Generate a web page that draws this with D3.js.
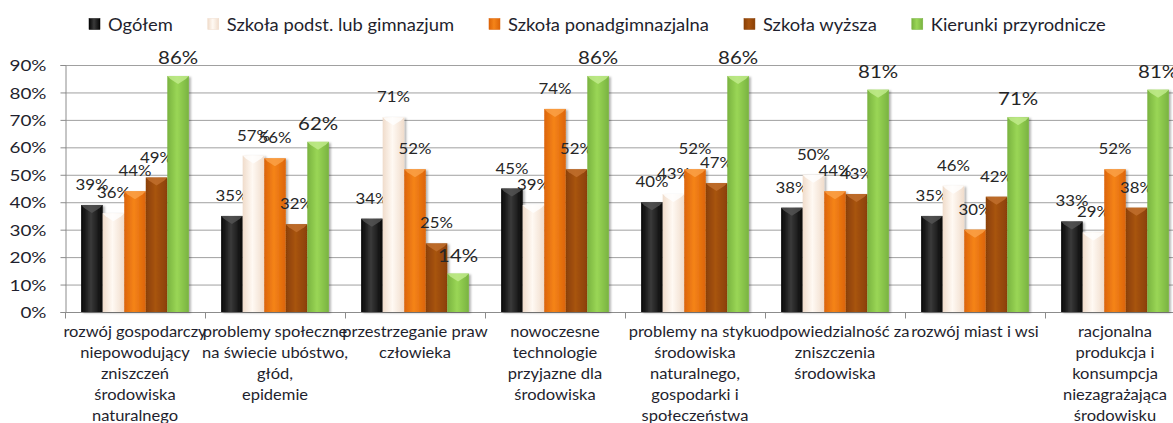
<!DOCTYPE html>
<html>
<head>
  <meta charset="UTF-8">
  <style>
    body {
      margin: 0;
      background-color: #ffffff;
      font-family: Lato, 'Open Sans', sans-serif;
    }
    svg { display: block; }
    .grid line { stroke: #a0a0a0; stroke-width: 1; }
    .axis path, .axis line { stroke: #8c8c8c; }
    .axis text { fill: #1f1f2e; font-size: 16px; font-family: Lato, sans-serif; }
  </style>
</head>
<body>

<svg id="chart"></svg>

<script src="https://d3js.org/d3.v7.min.js"></script>

<script>
// data
const categories = [
  ["rozwój gospodarczy", "niepowodujący", "zniszczeń", "środowiska", "naturalnego"],
  ["problemy społeczne", "na świecie ubóstwo,", "głód,", "epidemie"],
  ["przestrzeganie praw", "człowieka"],
  ["nowoczesne", "technologie", "przyjazne dla", "środowiska"],
  ["problemy na styku", "środowiska", "naturalnego,", "gospodarki i", "społeczeństwa"],
  ["odpowiedzialność za", "zniszczenia", "środowiska"],
  ["rozwój miast i wsi"],
  ["racjonalna", "produkcja i", "konsumpcja", "niezagrażająca", "środowisku"]
];
const seriesNames = ["Ogółem", "Szkoła podst. lub gimnazjum", "Szkoła ponadgimnazjalna", "Szkoła wyższa", "Kierunki przyrodnicze"];
const ogolem     = [39, 35, 34, 45, 40, 38, 35, 33];
const podstawowa = [36, 57, 71, 39, 43, 50, 46, 29];
const ponadgimn  = [44, 56, 52, 74, 52, 44, 30, 52];
const wyzsza     = [49, 32, 25, 52, 47, 43, 42, 38];
const przyrodn   = [86, 62, 14, 86, 86, 81, 71, 81];
const yTicks = [0, 10, 20, 30, 40, 50, 60, 70, 80, 90];

const seriesValues = [ogolem, podstawowa, ponadgimn, wyzsza, przyrodn];
// edge / centre / top colours for the bevelled look
const colors = [
  {edge: "#050505", mid: "#3a3a3a", top: "#555555"},
  {edge: "#f0dccb", mid: "#fff9f3", top: "#ffffff"},
  {edge: "#dc6408", mid: "#f58419", top: "#fba24a"},
  {edge: "#8a4006", mid: "#a8540f", top: "#c27030"},
  {edge: "#79b340", mid: "#9ad656", top: "#c3ec8e"}
];

let width = 1173, height = 423;
let svg = d3.select("#chart").attr("width", width).attr("height", height);

// the original text is a bit wider than Lato, stretch it a little
function stretch(sel, k) {
  sel.each(function() {
    let len = this.getComputedTextLength();
    d3.select(this).attr("textLength", len * k).attr("lengthAdjust", "spacingAndGlyphs");
  });
}

let defs = svg.append("defs");
colors.forEach((c, i) => {
  let g = defs.append("linearGradient").attr("id", "grad" + i)
      .attr("x1", "0%").attr("x2", "100%").attr("y1", "0%").attr("y2", "0%");
  g.append("stop").attr("offset", "0%").attr("stop-color", c.edge);
  g.append("stop").attr("offset", "45%").attr("stop-color", c.mid);
  g.append("stop").attr("offset", "100%").attr("stop-color", c.edge);
});
let shadow = defs.append("filter").attr("id", "shadow")
    .attr("x", "-20%").attr("y", "-5%").attr("width", "150%").attr("height", "115%");
shadow.append("feDropShadow").attr("dx", 2).attr("dy", 1).attr("stdDeviation", 1.2)
    .attr("flood-color", "#000").attr("flood-opacity", 0.3);

let x0 = d3.scaleBand().domain(d3.range(categories.length)).range([65, 1185]);
let x1 = d3.scaleBand().domain(d3.range(seriesNames.length))
    .range([0, x0.bandwidth()]).paddingOuter(0.75);
let y = d3.scaleLinear().domain([0, 90]).range([312, 65]);
let xb = d3.scaleLinear().domain([0, categories.length]).range([65, 1185]);

// gridlines
svg.append("g").attr("class", "grid")
  .selectAll("line").data(yTicks.slice(1)).enter().append("line")
    .attr("x1", 65).attr("x2", width)
    .attr("y1", d => y(d) + 0.5).attr("y2", d => y(d) + 0.5);

// axes
svg.append("g").attr("class", "axis")
    .attr("transform", "translate(65.5,0)")
    .call(d3.axisLeft(y).tickValues(yTicks).tickFormat(d => d + "%").tickSize(5).tickPadding(14))
    .call(g => g.selectAll("text").attr("dy", "0.35em").call(stretch, 1.18));

svg.append("g").attr("class", "axis")
    .attr("transform", "translate(0,312.5)")
    .call(d3.axisBottom(xb).tickValues(d3.range(categories.length + 1)).tickFormat("").tickSize(6))
    .call(g => g.select(".domain").attr("d", "M65,0H" + width));

// bars
let groups = svg.append("g").selectAll("g")
  .data(categories).enter().append("g")
    .attr("transform", (d, i) => "translate(" + x0(i) + ",0)");

groups.each(function(cat, ci) {
  let g = d3.select(this);
  seriesValues.forEach((vals, si) => {
    let v = vals[ci];
    let bx = x1(si), bw = x1.bandwidth(), by = y(v), bh = y(0) - y(v);
    g.append("rect")
        .attr("x", bx).attr("y", by).attr("width", bw).attr("height", bh)
        .attr("fill", "url(#grad" + si + ")")
        .attr("filter", "url(#shadow)");
    // top bevel
    g.append("path")
        .attr("d", `M${bx},${by}H${bx + bw}L${bx + bw - 3},${by + 3}L${bx + bw / 2},${by + 8}L${bx + 3},${by + 3}Z`)
        .attr("fill", colors[si].top).attr("opacity", 0.8);
    // value label
    g.append("text")
        .attr("class", si === 4 ? "vlab big" : "vlab")
        .attr("x", bx + bw / 2)
        .attr("y", by - (si === 4 ? 12 : 15))
        .attr("text-anchor", "middle")
        .attr("font-size", si === 4 ? 17 : 15)
        .attr("fill", "#262626")
        .text(v + "%");
  });
});
svg.selectAll(".vlab").filter(function() { return !this.classList.contains("big"); }).call(stretch, 1.12);
svg.selectAll(".vlab.big").call(stretch, 1.2);

// category labels
svg.append("g").selectAll("text")
  .data(categories).enter().append("text")
    .attr("text-anchor", "middle")
    .attr("font-size", 15)
    .attr("fill", "#1f1f2e")
    .each(function(lines, i) {
      let t = d3.select(this);
      lines.forEach((line, k) => {
        t.append("tspan").attr("x", x0(i) + x0.bandwidth() / 2)
          .attr("y", 337 + k * 21).text(line);
      });
    })
    .selectAll("tspan").call(stretch, 1.1);

// legend
let legend = svg.append("g").attr("transform", "translate(89,0)");
let lx = 0;
seriesNames.forEach((name, i) => {
  legend.append("rect").attr("x", lx).attr("y", 18.5).attr("width", 11).attr("height", 11)
      .attr("fill", "url(#grad" + i + ")").attr("stroke", colors[i].edge).attr("stroke-width", 0.5);
  let t = legend.append("text").attr("x", lx + 19).attr("y", 31)
      .attr("font-size", 17).attr("fill", "#1f1f2e").text(name);
  let w = t.node().getComputedTextLength() * 1.08;
  t.attr("textLength", w).attr("lengthAdjust", "spacingAndGlyphs");
  lx += 19 + w + 35;
});
</script>

</body>
</html>
